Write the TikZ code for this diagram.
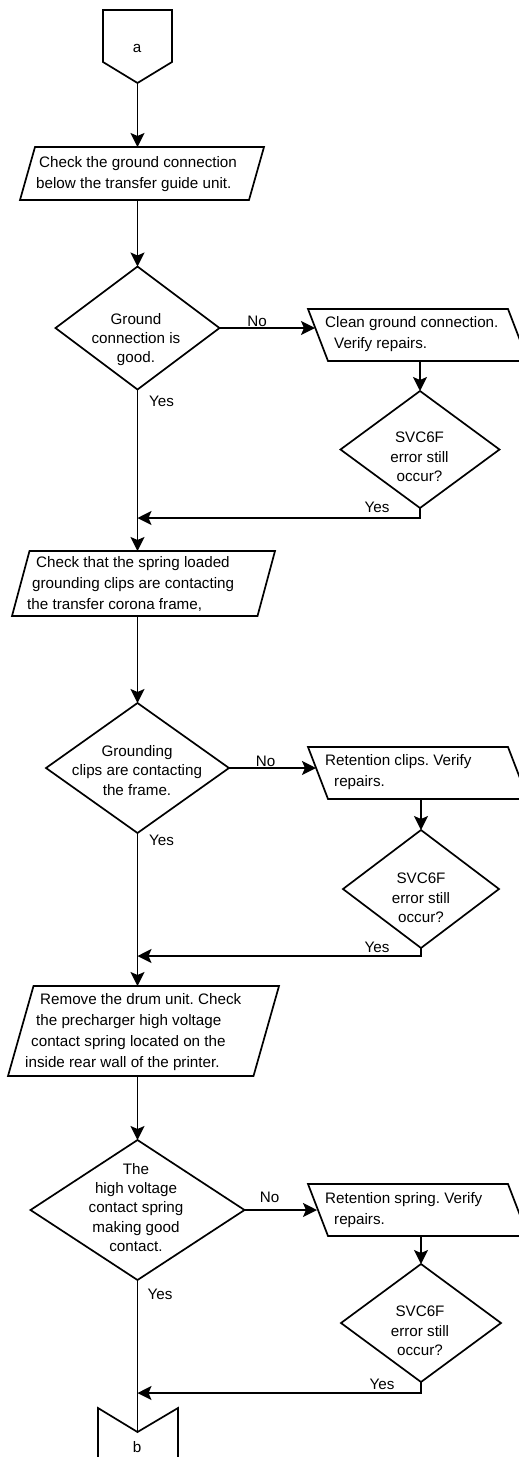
\documentclass[tikz,border=0pt]{standalone}
\usepackage{fontspec}
\setmainfont{Liberation Sans}
\usetikzlibrary{shapes.geometric,arrows.meta,calc}
\frenchspacing
\newcommand\fwdpara[2]{\draw[ln] ([xshift=#2]#1.north west) -- (#1.north east) -- ([xshift=-#2]#1.south east) -- (#1.south west) -- cycle;}
\newcommand\bckpara[2]{\draw[ln] (#1.north west) -- ([xshift=-#2]#1.north east) -- (#1.south east) -- ([xshift=#2]#1.south west) -- cycle;}
\begin{document}
\begin{tikzpicture}[x=1pt,y=-1pt,
  ln/.style={line width=1.7pt, line join=miter},
  arr/.style={ln, -{Stealth[length=14pt,width=14pt,inset=3pt]}},
  dia/.style={diamond, draw, ln, inner sep=0pt, outer sep=0pt},
  box/.style={rectangle, draw=none, inner sep=0pt, outer sep=0pt},
  txt/.style={inner sep=0pt, font=\fontsize{15.2}{21}\selectfont\frenchspacing, align=left, anchor=west},
  dtxt/.style={inner sep=0pt, font=\fontsize{15.2}{19.3}\selectfont, align=center},
  lbl/.style={inner sep=0pt, font=\fontsize{15.2}{18}\selectfont}
]
\useasboundingbox (0,0) rectangle (519,1457);
\clip (0,0) rectangle (519,1457);

% connector a
\coordinate (aTip) at (137.5,83);
\draw[ln] (103,10) -- (172,10) -- (172,62) -- (aTip) -- (103,62) -- cycle;
\node[lbl] (a) at (137,48) {a};

% block 1
\node[box, minimum width=244pt, minimum height=53pt] (p1) at (142,173.5) {};
\fwdpara{p1}{15pt}
\node[txt] (p1t) at (36,174.5) {\hspace*{3pt}Check the ground connection\\below the transfer guide unit.};

\node[dia, minimum width=164pt, minimum height=123pt] (d1) at (137.5,328) {};
\node[dtxt] (d1t) at (136,339.5) {Ground\\connection is\\good.};

\node[box, minimum width=220pt, minimum height=52pt] (p2) at (418,335) {};
\bckpara{p2}{20pt}
\node[txt] (p2t) at (325,334.5) {Clean ground connection.\\\hspace*{9pt}Verify repairs.};

\node[dia, minimum width=159pt, minimum height=117pt] (d2) at (420,449.5) {};
\node[dtxt] (d2t) at (419.5,457) {SVC6F\\error still\\occur?};

\coordinate (m1) at (137.5,518);

\node[lbl] (no1) at (257,321) {No};
\node[lbl] (yes1) at (161.5,401) {Yes};
\node[lbl] (yes2) at (377,507) {Yes};

% block 2
\node[box, minimum width=263pt, minimum height=65pt] (p3) at (143.5,583.5) {};
\fwdpara{p3}{17.5pt}
\node[txt] (p3t) at (27,583.5) {\hspace*{9pt}Check that the spring loaded\\\hspace*{5pt}grounding clips are contacting\\the transfer corona frame,};

\node[dia, minimum width=183pt, minimum height=130pt] (d3) at (137.5,768) {};
\node[dtxt] (d3t) at (137,770.5) {Grounding\\clips are contacting\\the frame.};

\node[box, minimum width=220pt, minimum height=52pt] (p4) at (418,773) {};
\bckpara{p4}{20pt}
\node[txt] (p4t) at (325,772.5) {Retention clips. Verify\\\hspace*{9pt}repairs.};

\node[dia, minimum width=156pt, minimum height=118pt] (d4) at (421,889) {};
\node[dtxt] (d4t) at (421,898) {SVC6F\\error still\\occur?};

\coordinate (m2) at (137.5,956);

\node[lbl] (no2) at (265.5,761) {No};
\node[lbl] (yes3) at (161.5,840) {Yes};
\node[lbl] (yes4) at (377,947) {Yes};

% block 3
\node[box, minimum width=271pt, minimum height=90pt] (p5) at (143.5,1031) {};
\fwdpara{p5}{25.5pt}
\node[txt] (p5t) at (25,1032) {\hspace*{15pt}Remove the drum unit. Check\\\hspace*{11pt}the precharger high voltage\\\hspace*{6pt}contact spring located on the\\inside rear wall of the printer.};

\node[dia, minimum width=214pt, minimum height=140pt] (d5) at (137.5,1210) {};
\node[dtxt] (d5t) at (136,1207.5) {The\\high voltage\\contact spring\\making good\\contact.};

\node[box, minimum width=220pt, minimum height=52pt] (p6) at (418,1210) {};
\bckpara{p6}{20pt}
\node[txt] (p6t) at (325,1210.5) {Retention spring. Verify\\\hspace*{9pt}repairs.};

\node[dia, minimum width=160pt, minimum height=118pt] (d6) at (421,1323) {};
\node[dtxt] (d6t) at (420,1331) {SVC6F\\error still\\occur?};

\coordinate (m3) at (137.5,1393);

\node[lbl] (no3) at (269.5,1197) {No};
\node[lbl] (yes5) at (160,1294) {Yes};
\node[lbl] (yes6) at (382,1384) {Yes};

% connector b
\coordinate (bNotch) at (137.5,1432);
\draw[ln] (98,1475) -- (98,1408) -- (bNotch) -- (178,1408) -- (178,1475);
\node[lbl] (b) at (137,1447) {b};

% connectors
\draw[arr] (aTip) -- (aTip |- p1.north);
\draw[arr] (d1.north |- p1.south) -- (d1.north);
\draw[arr, shorten >=-7pt] (d1.east) -- (d1.east -| p2.west);
\draw[arr] (d2.north |- p2.south) -- (d2.north);
\draw[arr] (d2.south) -- (d2.south |- m1) -- (m1);
\draw[arr] (d1.south) -- (d1.south |- p3.north);

\draw[arr] (d3.north |- p3.south) -- (d3.north);
\draw[arr, shorten >=-8pt] (d3.east) -- (d3.east -| p4.west);
\draw[arr] (d4.north |- p4.south) -- (d4.north);
\draw[arr] (d4.south) -- (d4.south |- m2) -- (m2);
\draw[arr] (d3.south) -- (d3.south |- p5.north);

\draw[arr] (d5.north |- p5.south) -- (d5.north);
\draw[arr, shorten >=-9pt] (d5.east) -- (d5.east -| p6.west);
\draw[arr] (d6.north |- p6.south) -- (d6.north);
\draw[arr] (d6.south) -- (d6.south |- m3) -- (m3);
\draw[ln] (d5.south) -- (bNotch);
\end{tikzpicture}
\end{document}
